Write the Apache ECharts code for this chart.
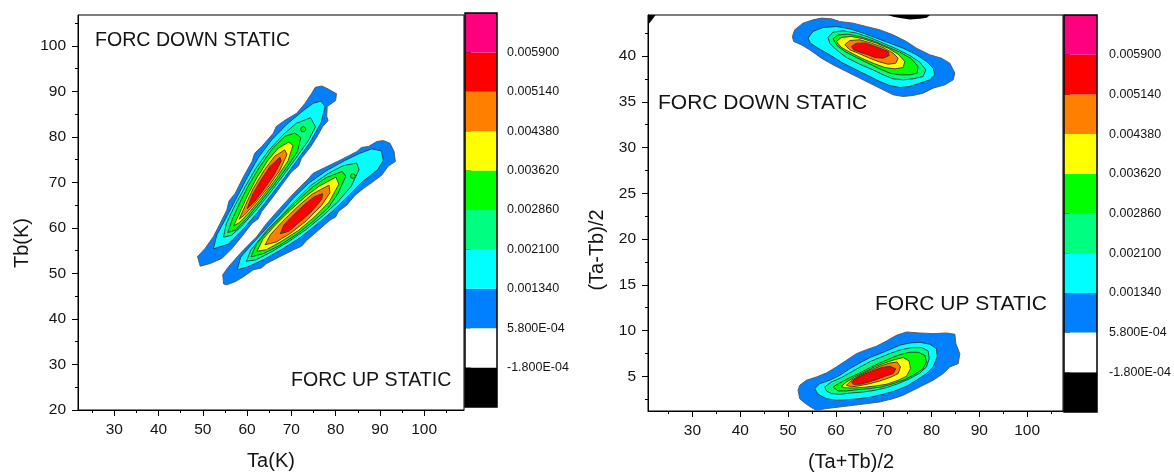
<!DOCTYPE html>
<html>
<head>
<meta charset="utf-8">
<script src="https://cdn.jsdelivr.net/npm/echarts@6/dist/echarts.min.js"></script>
<style>
  html, body { margin: 0; padding: 0; background: #ffffff; }
  #chart { width: 1174px; height: 473px; }
</style>
</head>
<body>
<div id="chart"></div>
<script>
// ---- contour levels and colour bands ----
// boundaries between bands, bottom to top (colour bar tick labels)
const levelLabels = ['-1.800E-04', '5.800E-04', '0.001340', '0.002100', '0.002860',
                     '0.003620', '0.004380', '0.005140', '0.005900'];
// band fills, bottom (below -1.8E-4) to top (above 0.0059)
const bandColors = ['#000000', '#FFFFFF', '#0080FF', '#00FFFF', '#00FF80',
                    '#00FF00', '#FFFF00', '#FF8000', '#FF0000', '#FF0080'];

// ---- axes ----
const taRange = [21.8, 109];
const tbRange = [20, 106.8];
const taTicks = [30, 40, 50, 60, 70, 80, 90, 100];
const taMinor = [25, 35, 45, 55, 65, 75, 85, 95, 105];
const tbTicks = [20, 30, 40, 50, 60, 70, 80, 90, 100];
const tbMinor = [25, 35, 45, 55, 65, 75, 85, 95, 105];
const sumRange = [20.7, 107.5];
const diffRange = [1.2, 44.5];
const sumTicks = [30, 40, 50, 60, 70, 80, 90, 100];
const sumMinor = [25, 35, 45, 55, 65, 75, 85, 95, 105];
const diffTicks = [5, 10, 15, 20, 25, 30, 35, 40];
const diffMinor = [2.5, 7.5, 12.5, 17.5, 22.5, 27.5, 32.5, 37.5, 42.5];

// ---- Ta/Tb plane, FORC down: closed contours, outer (0.00058) to inner (0.00514) ----
const tatbDown = [
  [[75.4,90.9],[76.9,91.2],[78.4,90.5],[80.2,89.5],[80.0,88.0],[78.1,86.7],[78.0,84.5],[78.3,83.6],[77.1,82.3],[75.7,79.9],[74.4,77.9],[72.3,75.3],[71.6,73.6],[70.1,72.4],[67.8,69.4],[65.6,66.5],[63.3,63.6],[62.5,62.0],[61.1,61.0],[58.8,58.1],[56.6,55.5],[54.3,53.3],[51.7,52.2],[49.4,51.6],[48.8,53.7],[50.5,55.5],[52.4,58.1],[53.9,61.0],[55.4,63.9],[55.9,65.9],[57.3,67.6],[59.2,71.3],[61.1,74.6],[61.7,76.4],[63.3,77.9],[65.9,80.8],[66.6,82.3],[68.6,83.7],[71.2,85.2],[73.1,87.4],[74.6,89.6]],
  [[52.38,55.42],[53.15,58.46],[55.52,62.72],[57.83,67.01],[60.14,71.31],[62.57,75.52],[65.54,79.34],[68.99,82.79],[72.86,85.94],[74.94,87.4],[76.73,87.88],[77.63,86.62],[76.69,83.11],[74.26,78.9],[71.41,74.99],[68.5,71.14],[65.53,67.33],[62.5,63.56],[59.29,59.92],[55.84,56.47]],
  [[54.64,57.96],[55.35,61.04],[57.06,64.58],[59.43,68.83],[61.92,73.0],[64.77,76.9],[68.1,80.45],[71.14,83.01],[74.36,84.23],[75.44,82.23],[73.84,79.2],[70.99,75.31],[68.08,71.45],[65.11,67.64],[62.02,63.91],[58.69,60.37],[56.49,58.39]],
  [[55.65,59.01],[56.66,61.87],[58.31,65.45],[60.33,69.37],[62.88,73.49],[65.73,77.4],[68.52,80.13],[70.79,80.86],[72.11,79.89],[71.4,76.8],[69.21,73.62],[66.3,69.76],[63.27,66.0],[60.12,62.32],[57.38,59.53]],
  [[56.96,60.45],[58.44,63.56],[60.1,67.14],[62.17,71.01],[64.84,75.05],[67.1,77.58],[69.42,78.87],[70.38,78.16],[69.26,74.78],[66.53,70.79],[63.56,66.98],[60.71,63.68],[58.33,61.24]],
  [[58.21,61.93],[59.45,64.61],[61.35,68.62],[63.9,72.74],[66.27,75.79],[68.48,77.17],[69.02,76.16],[67.36,72.58],[64.51,68.68],[61.72,65.34],[59.4,62.85]],
  [[59.99,64.21],[61.29,67.46],[63.31,70.77],[65.21,73.58],[67.41,75.55],[67.71,74.73],[66.11,71.7],[63.85,68.57],[61.77,65.9]]
];
const tatbDownSpot = [[72.7,82.3],[73.2,82.0],[73.3,81.5],[72.9,81.1],[72.3,81.2],[72.1,81.7],[72.3,82.1]];

// ---- Ta/Tb plane, FORC up ----
const tatbUp = [
  [[54.7,47.7],[54.5,49.7],[55.8,51.5],[59.2,55.2],[62.2,58.1],[64.4,61.0],[67.4,64.3],[70.5,67.6],[73.5,70.5],[74.9,72.0],[77.2,73.1],[81.0,74.9],[84.8,76.8],[85.8,77.7],[87.4,77.9],[89.3,79.0],[90.8,79.2],[92.3,78.6],[93.2,76.8],[93.5,74.6],[91.9,73.6],[90.4,71.6],[88.5,70.2],[86.3,68.7],[84.4,67.2],[82.5,65.0],[80.6,63.6],[80.0,62.4],[78.7,61.7],[76.1,59.5],[73.5,57.3],[72.3,56.0],[70.5,55.2],[67.4,53.7],[64.4,52.2],[63.2,51.2],[61.4,50.8],[59.2,49.3],[57.3,48.2],[55.4,47.5]],
  [[57.77,50.81],[58.54,53.55],[61.02,56.38],[64.24,59.78],[67.46,63.18],[70.58,66.69],[73.98,69.86],[77.81,72.51],[81.95,74.76],[85.41,76.38],[88.18,77.38],[90.31,76.96],[90.78,74.9],[89.5,72.8],[85.81,69.97],[82.5,66.69],[79.1,63.52],[75.51,60.59],[71.83,57.76],[67.86,55.29],[63.72,53.04],[60.21,51.48]],
  [[59.84,52.68],[60.84,55.13],[64.47,59.49],[67.78,62.78],[71.05,66.12],[74.4,69.34],[78.27,71.93],[81.64,73.67],[84.73,74.27],[85.29,72.84],[83.51,69.14],[80.38,65.63],[76.93,62.52],[73.3,59.64],[69.43,57.05],[65.37,54.68],[61.96,53.0]],
  [[60.85,53.64],[62.13,56.49],[64.61,59.32],[67.92,62.6],[71.23,65.89],[74.73,68.94],[77.81,71.02],[81.46,72.42],[82.3,71.38],[80.56,67.63],[78.36,64.45],[74.86,61.39],[71.18,58.57],[67.21,56.09],[63.8,54.41]],
  [[62.23,54.89],[63.6,57.62],[66.45,60.73],[69.81,63.96],[73.31,67.01],[76.3,69.21],[80.08,71.17],[80.73,69.62],[78.53,65.7],[75.22,62.42],[71.63,59.48],[67.67,57.0],[64.35,55.21]],
  [[64.07,56.3],[65.26,58.51],[68.48,61.91],[71.88,65.08],[74.74,67.45],[78.52,69.42],[78.71,67.7],[76.78,64.92],[73.47,61.64],[69.79,58.81],[66.56,56.9]],
  [[67.48,58.72],[68.3,60.66],[70.6,62.98],[72.99,65.18],[75.2,66.88],[77.05,67.54],[76.87,66.29],[74.39,63.45],[71.9,61.36],[69.42,59.27]]
];
const tatbUpSpot = [[83.9,71.95],[84.35,71.7],[84.45,71.3],[84.1,70.9],[83.6,70.95],[83.35,71.35],[83.5,71.8]];

// ---- (Ta+Tb)/2, (Ta-Tb)/2 plane, FORC down ----
const sumDiffDown = [
  [[50.89,42.15],[51.38,42.88],[53.12,43.61],[55.22,43.97],[56.96,44.16],[59.06,44.08],[60.8,43.79],[63.59,43.61],[66.38,43.24],[69.18,42.88],[71.97,42.33],[74.76,41.6],[76.85,40.87],[79.65,40.15],[82.09,39.78],[83.83,39.23],[84.88,38.14],[84.53,37.41],[82.79,36.86],[80.34,36.5],[78.25,35.95],[76.16,35.7],[74.06,35.59],[71.97,35.77],[69.87,36.32],[67.78,36.86],[64.99,37.59],[62.2,38.32],[59.4,39.05],[56.96,39.78],[54.52,40.69],[52.77,41.24],[51.17,41.6]],
  [[54.17,41.97],[55.22,42.7],[57.31,43.14],[60.1,43.24],[62.89,42.99],[65.69,42.52],[68.48,41.97],[71.27,41.42],[74.06,40.87],[76.85,40.15],[78.95,39.42],[80.34,38.69],[80.69,37.96],[79.65,37.41],[77.55,37.05],[75.46,36.68],[73.36,36.57],[71.27,36.79],[69.18,37.23],[67.08,37.78],[64.29,38.5],[61.5,39.23],[58.71,40.15],[56.26,40.87],[54.66,41.42]],
  [[58.36,42.04],[59.4,42.63],[61.5,42.77],[64.29,42.52],[67.08,42.04],[69.87,41.42],[72.67,40.8],[75.46,40.07],[77.55,39.34],[78.81,38.5],[78.25,37.78],[76.16,37.52],[74.06,37.41],[71.97,37.52],[69.87,37.96],[67.78,38.5],[64.99,39.12],[62.2,39.85],[60.1,40.69],[58.71,41.42]],
  [[59.4,41.9],[60.45,42.33],[62.55,42.41],[64.99,42.15],[67.78,41.68],[70.57,41.06],[73.36,40.44],[75.81,39.71],[77.2,38.87],[76.99,38.14],[75.46,37.96],[73.36,37.96],[71.27,38.14],[69.18,38.61],[66.73,39.23],[64.29,39.85],[61.85,40.51],[60.24,41.17]],
  [[60.1,41.6],[61.15,42.04],[63.24,42.15],[65.69,41.9],[68.48,41.42],[70.92,40.87],[73.02,40.22],[74.41,39.42],[74.06,38.76],[72.32,38.61],[70.22,38.76],[67.78,39.23],[65.34,39.78],[62.89,40.44],[61.15,40.95]],
  [[61.85,41.24],[62.89,41.71],[64.99,41.79],[67.43,41.42],[69.87,40.95],[71.97,40.33],[73.02,39.78],[72.53,39.23],[70.92,39.12],[68.83,39.42],[66.73,39.85],[64.64,40.33],[62.89,40.69]],
  [[63.24,41.06],[64.29,41.4],[66.04,41.45],[67.78,41.15],[69.53,40.8],[70.92,40.51],[71.13,40.07],[69.87,39.78],[68.13,39.85],[66.73,40.15],[64.99,40.44],[63.73,40.69]]
];

// ---- (Ta+Tb)/2, (Ta-Tb)/2 plane, FORC up ----
const sumDiffUp = [
  [[52.08,3.46],[52.43,4.01],[53.82,4.56],[55.92,4.92],[58.01,5.36],[60.11,6.02],[62.2,6.74],[64.29,7.47],[66.39,7.91],[68.48,8.28],[70.58,8.86],[72.67,9.48],[74.76,9.84],[77.56,9.73],[80.35,9.66],[83.14,9.73],[84.89,9.59],[85.09,8.57],[85.93,7.47],[85.58,6.38],[83.84,6.02],[82.44,5.29],[80.35,4.56],[78.25,4.01],[76.16,3.46],[74.07,2.92],[71.97,2.55],[69.18,2.19],[66.39,2.0],[63.6,1.82],[60.8,1.64],[58.01,1.46],[55.92,1.28],[54.87,1.57],[53.47,2.08],[52.43,2.55]],
  [[55.57,3.65],[56.62,4.19],[58.71,4.56],[60.8,5.1],[62.9,5.83],[64.99,6.45],[67.09,7.04],[69.18,7.47],[71.27,7.91],[73.37,8.39],[75.46,8.64],[77.56,8.71],[79.65,8.5],[81.05,8.02],[81.19,7.11],[80.35,6.02],[78.95,5.29],[76.86,4.56],[74.76,3.9],[72.32,3.39],[69.88,3.03],[67.44,2.73],[64.99,2.55],[62.55,2.44],[60.11,2.37],[58.01,2.55],[56.27,3.03]],
  [[57.66,3.83],[59.06,4.37],[61.15,4.85],[63.25,5.47],[65.34,6.09],[67.44,6.67],[69.53,7.11],[71.62,7.55],[73.72,7.91],[75.81,8.13],[77.91,8.13],[79.3,7.77],[79.51,6.93],[78.95,6.02],[77.56,5.36],[75.46,4.74],[73.02,4.19],[70.58,3.76],[68.13,3.46],[65.69,3.28],[63.25,3.17],[60.8,3.03],[59.06,3.1],[58.01,3.39]],
  [[59.41,3.83],[60.8,4.27],[62.9,4.85],[64.99,5.36],[67.09,5.94],[69.18,6.45],[71.27,6.93],[73.37,7.36],[75.46,7.62],[77.21,7.62],[78.6,7.29],[78.95,6.56],[78.25,5.83],[76.51,5.21],[74.42,4.63],[71.97,4.19],[69.53,3.83],[67.09,3.65],[64.64,3.54],[62.2,3.39],[60.46,3.39]],
  [[61.15,3.9],[62.2,4.37],[63.95,4.92],[66.04,5.47],[68.13,6.02],[70.23,6.45],[72.32,6.82],[74.07,7.04],[75.32,6.67],[75.6,5.83],[74.76,4.99],[73.02,4.56],[70.58,4.12],[68.13,3.93],[65.69,3.78],[63.25,3.7],[61.85,3.75]],
  [[62.2,4.01],[63.25,4.56],[64.99,5.1],[67.09,5.65],[69.18,6.09],[71.27,6.45],[72.81,6.56],[73.51,6.02],[73.02,5.29],[71.27,4.85],[69.18,4.48],[67.09,4.19],[64.99,3.97],[63.25,3.83]],
  [[63.25,4.37],[64.29,4.8],[66.04,5.25],[67.78,5.62],[69.53,5.95],[71.27,6.09],[72.53,5.83],[71.97,5.29],[70.23,4.99],[68.48,4.63],[66.74,4.34],[64.99,4.12],[63.74,4.12]]
];
// negative (below -1.8E-4) patches along the top edge
const sumDiffNegCorner = [[20.7,44.5],[22.3,44.5],[21.6,44.0],[21.0,43.6],[20.7,43.6]];
const sumDiffNegTop = [[70.9,44.5],[79.7,44.5],[79.0,44.2],[77.6,44.08],[75.5,44.0],[73.4,44.18],[72.0,44.3]];

// ---- build ring lists (band index into bandColors) ----
function ringsOf(blob) { return blob.map((pts, i) => ({ band: i + 2, pts })); }
const leftRings = [].concat(ringsOf(tatbDown), [{ band: 5, pts: tatbDownSpot }],
                            ringsOf(tatbUp), [{ band: 5, pts: tatbUpSpot }]);
const rightRings = [].concat([{ band: 0, pts: sumDiffNegCorner }, { band: 0, pts: sumDiffNegTop }],
                             ringsOf(sumDiffDown), ringsOf(sumDiffUp));

const FONT = '"Liberation Sans", Arial, sans-serif';
const TEXT = '#141414';

function majorAxis(grid, range, pos, ticks) {
  return {
    type: 'value', gridIndex: grid, position: pos, min: range[0], max: range[1],
    axisLine: { show: true, onZero: false, lineStyle: { color: '#000', width: 1 } },
    axisTick: { show: true, inside: false, length: 6, customValues: ticks, lineStyle: { color: '#000', width: 1 } },
    axisLabel: { show: true, customValues: ticks, margin: 12, fontFamily: FONT, fontSize: 15.5, color: TEXT },
    splitLine: { show: false }
  };
}
function minorAxis(grid, range, pos, ticks) {
  return {
    type: 'value', gridIndex: grid, position: pos, min: range[0], max: range[1],
    axisLine: { show: false, onZero: false },
    axisTick: { show: true, inside: false, length: 3, customValues: ticks, lineStyle: { color: '#000', width: 1 } },
    axisLabel: { show: false },
    splitLine: { show: false }
  };
}
function barXAxis(grid) {
  return { type: 'value', gridIndex: grid, min: 0, max: 1, show: false };
}
function barYAxis(grid, margin) {
  const idx = levelLabels.map((_, i) => i + 1);
  return {
    type: 'value', gridIndex: grid, position: 'right', min: 0, max: 10,
    axisLine: { show: false },
    axisTick: { show: true, length: 6, customValues: idx, lineStyle: { color: '#000', width: 1 } },
    axisLabel: { show: true, customValues: idx, margin: margin, fontFamily: FONT, fontSize: 12.5, color: TEXT,
                 formatter: v => levelLabels[Math.round(v) - 1] },
    splitLine: { show: false }
  };
}

function contourSeries(axisIndex, rings) {
  return {
    type: 'custom', xAxisIndex: axisIndex, yAxisIndex: axisIndex, silent: true, clip: true,
    data: rings.map(r => [r.pts[0][0], r.pts[0][1]]),
    encode: { x: 0, y: 1 },
    renderItem: (params, api) => {
      const ring = rings[params.dataIndex];
      const points = ring.pts.map(p => api.coord(p));
      return {
        type: 'polygon',
        shape: { points },
        style: {
          fill: bandColors[ring.band],
          stroke: ring.band === 0 ? null : (ring.band === 2 ? '#555555' : '#363636'),
          lineWidth: ring.band === 0 ? 0 : 0.9
        }
      };
    }
  };
}
function colorBarSeries(axisIndex) {
  return {
    type: 'custom', xAxisIndex: axisIndex, yAxisIndex: axisIndex, silent: true,
    data: bandColors.map((c, i) => [0, i]),
    encode: { x: 0, y: 1 },
    renderItem: (params, api) => {
      const i = params.dataIndex;
      const a = api.coord([0, i]);
      const b = api.coord([1, i + 1]);
      return { type: 'rect', shape: { x: a[0], y: b[1], width: b[0] - a[0], height: a[1] - b[1] },
               style: { fill: bandColors[i] } };
    }
  };
}
function colorBarFrame(axisIndex) {
  return {
    type: 'custom', xAxisIndex: axisIndex, yAxisIndex: axisIndex, silent: true, z: 5,
    data: [[0, 0]],
    encode: { x: 0, y: 1 },
    renderItem: (params, api) => {
      const a = api.coord([0, 0]);
      const b = api.coord([1, 10]);
      return { type: 'rect', shape: { x: a[0], y: b[1], width: b[0] - a[0], height: a[1] - b[1] },
               style: { fill: null, stroke: '#000', lineWidth: 1.5 } };
    }
  };
}

const option = {
  animation: false,
  backgroundColor: '#ffffff',
  grid: [
    { left: 78, top: 15, width: 386, height: 395, show: true, borderColor: '#000', borderWidth: 1, backgroundColor: '#fff' },
    { left: 465, top: 13, width: 32, height: 394 },
    { left: 648, top: 15, width: 415, height: 396, show: true, borderColor: '#000', borderWidth: 1, backgroundColor: '#fff' },
    { left: 1064, top: 15, width: 33, height: 397 }
  ],
  xAxis: [
    majorAxis(0, taRange, 'bottom', taTicks),
    minorAxis(0, taRange, 'bottom', taMinor),
    barXAxis(1),
    majorAxis(2, sumRange, 'bottom', sumTicks),
    minorAxis(2, sumRange, 'bottom', sumMinor),
    barXAxis(3)
  ],
  yAxis: [
    majorAxis(0, tbRange, 'left', tbTicks),
    minorAxis(0, tbRange, 'left', tbMinor),
    barYAxis(1, 10),
    majorAxis(2, diffRange, 'left', diffTicks),
    minorAxis(2, diffRange, 'left', diffMinor),
    barYAxis(3, 12)
  ],
  series: [
    contourSeries(0, leftRings),
    colorBarSeries(2),
    colorBarFrame(2),
    contourSeries(3, rightRings),
    colorBarSeries(5),
    colorBarFrame(5)
  ],
  graphic: [
    { type: 'text', x: 95, y: 41, style: { text: 'FORC DOWN STATIC', fontFamily: FONT, fontSize: 19.6, fill: TEXT, align: 'left', verticalAlign: 'middle' } },
    { type: 'text', x: 291, y: 381, style: { text: 'FORC UP STATIC', fontFamily: FONT, fontSize: 19.6, fill: TEXT, align: 'left', verticalAlign: 'middle' } },
    { type: 'text', x: 658, y: 103, style: { text: 'FORC DOWN STATIC', fontFamily: FONT, fontSize: 21, fill: TEXT, align: 'left', verticalAlign: 'middle' } },
    { type: 'text', x: 875, y: 304, style: { text: 'FORC UP STATIC', fontFamily: FONT, fontSize: 21, fill: TEXT, align: 'left', verticalAlign: 'middle' } },
    { type: 'text', x: 271, y: 461, style: { text: 'Ta(K)', fontFamily: FONT, fontSize: 20, fill: TEXT, align: 'center', verticalAlign: 'middle' } },
    { type: 'text', x: 22, y: 243, rotation: Math.PI / 2, style: { text: 'Tb(K)', fontFamily: FONT, fontSize: 20, fill: TEXT, align: 'center', verticalAlign: 'middle' } },
    { type: 'text', x: 851, y: 462, style: { text: '(Ta+Tb)/2', fontFamily: FONT, fontSize: 20, fill: TEXT, align: 'center', verticalAlign: 'middle' } },
    { type: 'text', x: 597, y: 250, rotation: Math.PI / 2, style: { text: '(Ta-Tb)/2', fontFamily: FONT, fontSize: 20, fill: TEXT, align: 'center', verticalAlign: 'middle' } }
  ]
};

const chart = echarts.init(document.getElementById('chart'), null, { renderer: 'canvas' });
chart.setOption(option);
</script>
</body>
</html>
